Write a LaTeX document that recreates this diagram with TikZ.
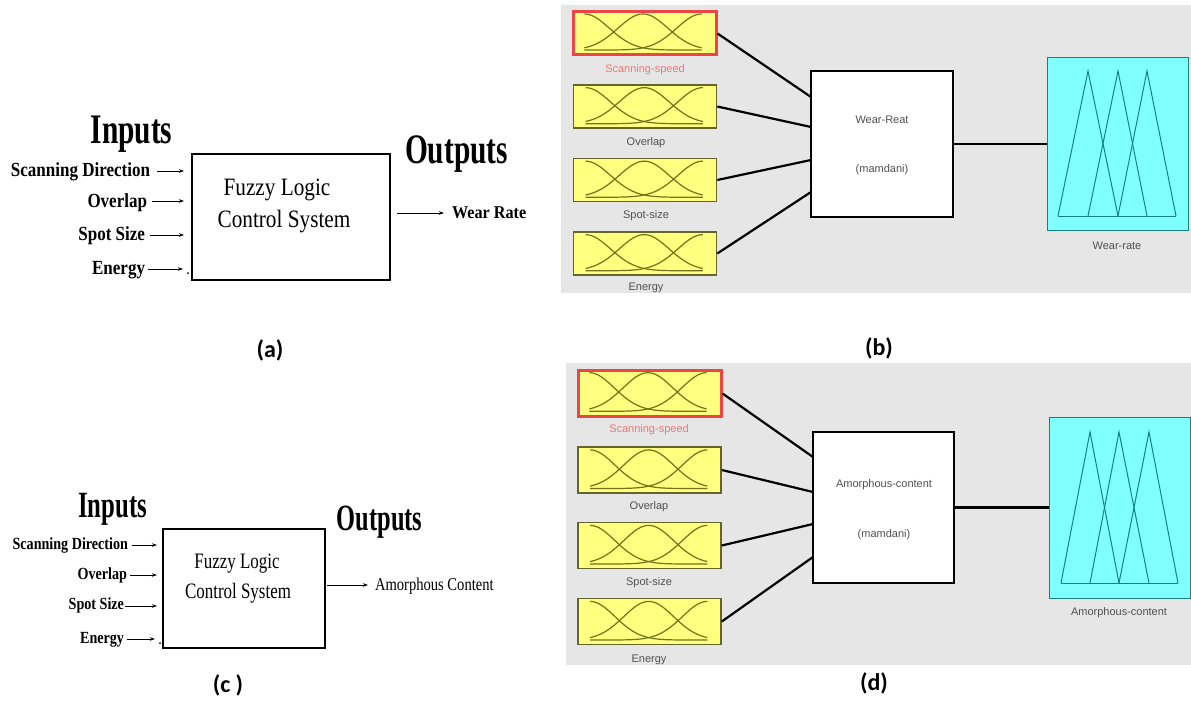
\documentclass[tikz,border=0pt]{standalone}
\usepackage{fontspec}
\usepackage{graphicx}
\setmainfont{Liberation Serif}
\setsansfont{Liberation Sans}
\newfontfamily\capfont{Carlito}
\usetikzlibrary{arrows.meta}
\definecolor{figgray}{RGB}{230,230,230}
\definecolor{mfyellow}{RGB}{255,255,128}
\definecolor{mfolive}{RGB}{115,115,25}
\definecolor{mfborder}{RGB}{100,100,45}
\definecolor{selred}{RGB}{235,70,70}
\definecolor{outcyan}{RGB}{128,255,255}
\definecolor{tealline}{RGB}{20,130,130}
\definecolor{lbl}{RGB}{80,80,80}
\definecolor{lblred}{RGB}{235,120,120}
\newcommand{\hsq}[2]{\scalebox{#1}[1]{#2}}
\tikzset{
  mfline/.style={draw=mfolive, line width=1.2pt},
  mfs/.pic={
    \foreach \mc in {0,0.5,1} {
      \draw[mfline] plot[domain=0:1,samples=41,smooth]
        ({0.09+0.82*\x},{0.92-0.84*exp(-((\x-\mc)*(\x-\mc))/0.0901)});
    }
  }
}
\begin{document}
\begin{tikzpicture}[x=1pt,y=-1pt,
  txt/.style={inner sep=0pt, outer sep=0pt},
  headA/.style={txt, font=\fontsize{42}{46}\selectfont\bfseries, anchor=base},
  headC/.style={txt, font=\fontsize{37}{40}\selectfont\bfseries, anchor=base},
  inlabA/.style={txt, font=\fontsize{20}{22}\selectfont\bfseries, anchor=base east},
  inlabC/.style={txt, font=\fontsize{17}{19}\selectfont\bfseries, anchor=base east},
  flsA/.style={txt, font=\fontsize{25}{28}\selectfont, anchor=base},
  flsC/.style={txt, font=\fontsize{22}{25}\selectfont, anchor=base},
  sysbox/.style={draw, line width=2pt, inner sep=0pt},
  inarrow/.style={line width=0.9pt, -{Stealth[length=5pt,width=3.5pt]}},
  captext/.style={txt, font=\capfont\bfseries\fontsize{24}{28}\selectfont},
  mfbox/.style={draw=mfborder, line width=1.6pt, fill=mfyellow, minimum width=143pt, inner sep=0pt},
  selbox/.style={mfbox, draw=selred, line width=3pt},
  mflab/.style={txt, font=\sffamily\fontsize{11}{12}\selectfont, text=lbl},
  mflabred/.style={mflab, text=lblred},
  rulebox/.style={draw, line width=2pt, fill=white, inner sep=0pt},
  rulelab/.style={txt, font=\sffamily\fontsize{11}{12}\selectfont, text=lbl},
  outbox/.style={draw=tealline, line width=0.8pt, fill=outcyan, inner sep=0pt},
  tri/.style={draw=tealline, line width=1pt, line join=miter},
  conn/.style={line width=2.2pt}
]
\useasboundingbox (0,0) rectangle (1191,701);
\fill[white] (0,0) rectangle (1191,701);

% ---------------- (a) ----------------
\node[sysbox, minimum width=198pt, minimum height=126pt] (fa) at (291,217) {};
\node[flsA] (fa1) at (277,195) {\hsq{0.85}{Fuzzy Logic}};
\node[flsA] (fa2) at (284,227) {\hsq{0.85}{Control System}};
\node[headA] (ina) at (131.5,143) {\hsq{0.7}{Inputs}};
\node[headA] (outa) at (456.5,163) {\hsq{0.7}{Outputs}};
\node[inlabA] (sda) at (150,176) {\hsq{0.85}{Scanning Direction}};
\node[inlabA] (ova) at (147,207) {\hsq{0.85}{Overlap}};
\node[inlabA] (ssa) at (145,240) {\hsq{0.85}{Spot Size}};
\node[inlabA] (ena) at (145,274) {\hsq{0.85}{Energy}};
\coordinate (sda1) at (157,171); \coordinate (sda2) at (184,171);
\coordinate (ova1) at (152,201); \coordinate (ova2) at (184,201);
\coordinate (ssa1) at (150,235); \coordinate (ssa2) at (184,235);
\coordinate (ena1) at (148,269); \coordinate (ena2) at (183,269);
\draw[inarrow] (sda1) -- (sda2);
\draw[inarrow] (ova1) -- (ova2);
\draw[inarrow] (ssa1) -- (ssa2);
\draw[inarrow] (ena1) -- (ena2);
\fill (188,273) circle (1pt);
\coordinate (oa1) at (397,213); \coordinate (oa2) at (444,213);
\draw[inarrow] (oa1) -- (oa2);
\node[txt, font=\fontsize{18}{20}\selectfont\bfseries, anchor=base west] (wra) at (452,218) {\hsq{0.9}{Wear Rate}};
\node[captext] (capa) at (270,350) {(a)};

% ---------------- (c) ----------------
\node[sysbox, minimum width=162pt, minimum height=119pt] (fc) at (244,588.5) {};
\node[flsC] (fc1) at (237,568) {\hsq{0.77}{Fuzzy Logic}};
\node[flsC] (fc2) at (238,598) {\hsq{0.77}{Control System}};
\node[headC] (inc) at (112.5,517) {\hsq{0.67}{Inputs}};
\node[headC] (outc) at (379.5,530) {\hsq{0.66}{Outputs}};
\node[inlabC] (sdc) at (128,549) {\hsq{0.83}{Scanning Direction}};
\node[inlabC] (ovc) at (127,579) {\hsq{0.83}{Overlap}};
\node[inlabC] (ssc) at (124,609) {\hsq{0.83}{Spot Size}};
\node[inlabC] (enc) at (124,643) {\hsq{0.83}{Energy}};
\coordinate (sdc1) at (132,545); \coordinate (sdc2) at (157,545);
\coordinate (ovc1) at (130,575); \coordinate (ovc2) at (157,575);
\coordinate (ssc1) at (125,606); \coordinate (ssc2) at (157,606);
\coordinate (enc1) at (127,639); \coordinate (enc2) at (155,639);
\draw[inarrow] (sdc1) -- (sdc2);
\draw[inarrow] (ovc1) -- (ovc2);
\draw[inarrow] (ssc1) -- (ssc2);
\draw[inarrow] (enc1) -- (enc2);
\fill (160,643) circle (1pt);
\coordinate (oc1) at (327,585); \coordinate (oc2) at (368,585);
\draw[inarrow] (oc1) -- (oc2);
\node[txt, font=\fontsize{18}{20}\selectfont, anchor=base west] (amc) at (375,590) {\hsq{0.81}{Amorphous Content}};
\node[captext] (capc) at (228,685) {(c )};

% ---------------- (b) ----------------
\fill[figgray] (561,5) rectangle (1191,293);
\node[selbox, minimum height=43pt] (b1) at (644.5,33.5) {};
\node[mfbox, minimum height=43pt] (b2) at (645,106.5) {};
\node[mfbox, minimum height=43pt] (b3) at (645,180) {};
\node[mfbox, minimum height=43pt] (b4) at (645,253.5) {};
\foreach \n in {b1,b2,b3,b4} { \pic[xscale=143,yscale=43] at (\n.north west) {mfs}; }
\node[mflabred] (lb1) at (645,70) {Scanning-speed};
\node[mflab] (lb2) at (646,143) {Overlap};
\node[mflab] (lb3) at (646,216) {Spot-size};
\node[mflab] (lb4) at (646,288) {Energy};
\node[rulebox, minimum width=142pt, minimum height=146pt] (wb) at (882,144) {};
\node[rulelab] (wbt1) at (882,120) {Wear-Reat};
\node[rulelab] (wbt2) at (882,170) {(mamdani)};
\coordinate (wbi1) at (811,97);
\coordinate (wbi2) at (811,127);
\coordinate (wbi3) at (811,160);
\coordinate (wbi4) at (811,192);
\draw[conn] (b1.east) -- (wbi1);
\draw[conn] (b2.east) -- (wbi2);
\draw[conn] (b3.east) -- (wbi3);
\draw[conn] (b4.east) -- (wbi4);
\node[outbox, minimum width=141pt, minimum height=173pt] (cb) at (1117.5,143.5) {};
\draw[conn] (wb.east) -- (wb.east -| cb.west);
\draw[tri] (1058,216) -- (1088,71) -- (1118,216);
\draw[tri] (1088,216) -- (1118,71) -- (1147,216);
\draw[tri] (1118,216) -- (1147,71) -- (1176,216);
\draw[tri] (1058,216) -- (1176,216);
\node[mflab] (lcb) at (1117,246) {Wear-rate};
\node[captext] (capb) at (879,348) {(b)};

% ---------------- (d) ----------------
\fill[figgray] (566,363) rectangle (1191,665);
\node[selbox, minimum height=46pt] (d1) at (649.5,393.5) {};
\node[mfbox, minimum height=46pt] (d2) at (649.5,470) {};
\node[mfbox, minimum height=46pt] (d3) at (649.5,545.5) {};
\node[mfbox, minimum height=46pt] (d4) at (649.5,621.5) {};
\foreach \n in {d1,d2,d3,d4} { \pic[xscale=143,yscale=46] at (\n.north west) {mfs}; }
\node[mflabred] (ld1) at (649,430) {Scanning-speed};
\node[mflab] (ld2) at (649,507) {Overlap};
\node[mflab] (ld3) at (649,583) {Spot-size};
\node[mflab] (ld4) at (649,660) {Energy};
\node[rulebox, minimum width=141pt, minimum height=151pt] (wd) at (883.5,507.5) {};
\node[rulelab] (wdt1) at (884,485) {Amorphous-content};
\node[rulelab] (wdt2) at (884,535) {(mamdani)};
\coordinate (wdi1) at (813,457);
\coordinate (wdi2) at (813,492);
\coordinate (wdi3) at (813,524);
\coordinate (wdi4) at (813,557);
\draw[conn] (d1.east) -- (wdi1);
\draw[conn] (d2.east) -- (wdi2);
\draw[conn] (d3.east) -- (wdi3);
\draw[conn] (d4.east) -- (wdi4);
\node[outbox, minimum width=141pt, minimum height=181pt] (cd) at (1119.5,507.5) {};
\draw[conn] (wd.east) -- (wd.east -| cd.west);
\draw[tri] (1061,583) -- (1090,432) -- (1119,583);
\draw[tri] (1090,583) -- (1119,432) -- (1149,583);
\draw[tri] (1119,583) -- (1149,432) -- (1178,583);
\draw[tri] (1061,583) -- (1178,583);
\node[mflab] (lcd) at (1119,613) {Amorphous-content};
\node[captext] (capd) at (874,683) {(d)};
\end{tikzpicture}
\end{document}
